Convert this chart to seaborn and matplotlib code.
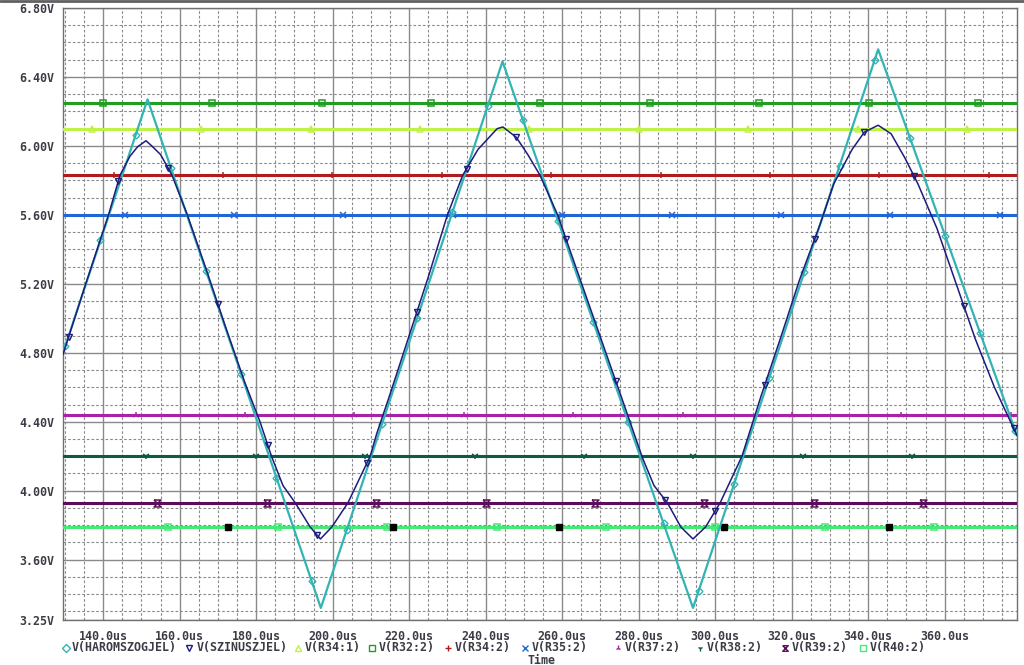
import numpy as np
import pandas as pd
import matplotlib
matplotlib.use("Agg")
import matplotlib.pyplot as plt
import seaborn as sns
from matplotlib.lines import Line2D

# ---------------- data ----------------
tri_t = [129.5, 151.6, 196.9, 244.4, 294.2, 342.6, 378.9]
tri_v = [4.80, 6.27, 3.32, 6.49, 3.32, 6.56, 4.32]

sin_t = [129.5, 135, 141.4, 144.4, 147, 149, 151.2, 152.7, 155, 158, 162, 167, 172, 177,
         181, 184, 187, 190.2, 194.1, 196.8, 199.8, 204, 209.8, 211.5, 215, 220, 225, 230,
         234, 238, 243, 244.5, 248, 251, 254.2, 258.8, 264, 270, 276, 281, 284, 287.5, 291,
         294.2, 297.5, 301.3, 307, 312, 317, 322, 327.5, 331, 335.8, 339, 342.6, 346, 349.6,
         353, 358, 363, 368, 373, 378.9]
sin_v = [4.79, 5.17, 5.60, 5.83, 5.94, 5.995, 6.03, 6.00, 5.95, 5.83, 5.60, 5.28, 4.95, 4.63,
         4.40, 4.20, 4.03, 3.93, 3.79, 3.72, 3.79, 3.93, 4.20, 4.33, 4.56, 4.90, 5.24, 5.60,
         5.83, 5.98, 6.10, 6.11, 6.05, 5.95, 5.83, 5.60, 5.27, 4.89, 4.51, 4.19, 4.03, 3.93, 3.79,
         3.72, 3.79, 3.93, 4.20, 4.55, 4.88, 5.22, 5.55, 5.78, 5.98, 6.08, 6.12, 6.07, 5.93,
         5.78, 5.52, 5.20, 4.88, 4.60, 4.32]

dc_names = ["V(R34:1)", "V(R32:2)", "V(R34:2)", "V(R35:2)",
            "V(R37:2)", "V(R38:2)", "V(R39:2)", "V(R40:2)"]
dc_levels = [6.10, 6.25, 5.83, 5.60, 4.44, 4.20, 3.93, 3.79]

x_ticks = [140, 160, 180, 200, 220, 240, 260, 280, 300, 320, 340, 360]
x_labels = [f"{v:.1f}us" for v in x_ticks]
y_ticks = [3.25, 3.60, 4.00, 4.40, 4.80, 5.20, 5.60, 6.00, 6.40, 6.80]
y_labels = [f"{v:.2f}V" for v in y_ticks]

# ---------------- style ----------------
sns.set_style("white")
plt.rcParams["font.family"] = ["DejaVu Sans Mono", "DejaVu Sans"]

XMIN, XMAX = 129.5, 378.9
YMIN, YMAX = 3.25, 6.80
TXT = "#3c3c46"

hourglass = [(-1, 1), (1, 1), (-1, -1), (1, -1), (-1, 1)]

tri_color = "#33b3b3"
sin_color = "#1c1c7c"
dc_colors = ["#bff246", "#229c22", "#b01c1c", "#2266d6",
             "#a622a6", "#0e5a44", "#5a0e5a", "#46e878"]
dc_markers = ["^", "s", "+", "x", "2", "1", hourglass, "s"]
line_markers = ("+", "x", "1", "2")

fig = plt.figure(figsize=(10.24, 6.65), dpi=100)
W, H = 1024, 665
ax = fig.add_axes([63 / W, 1 - 620 / H, (1017 - 63) / W, (620 - 8) / H])

ax.set_xlim(XMIN, XMAX)
ax.set_ylim(YMIN, YMAX)

# grid
ax.set_xticks(x_ticks)
ax.set_xticks(np.arange(130, 379, 5), minor=True)
ax.set_yticks(y_ticks)
ax.set_yticks(np.round(np.arange(3.3, 6.75, 0.1), 2), minor=True)
ax.grid(which="major", color="#8a8a8a", lw=1.0, ls="-")
ax.grid(which="minor", color="#8a8a8a", lw=0.8, ls=(0, (2.4, 1.8)))
ax.set_axisbelow(True)
ax.set_xticklabels(x_labels)
ax.set_yticklabels(y_labels)
ax.tick_params(axis="both", which="major", length=4, width=1, color="#606060",
               labelsize=8.4, labelcolor=TXT, pad=2)
ax.tick_params(axis="x", which="major", pad=3.5)
ax.tick_params(axis="both", which="minor", length=0)
for lab in ax.get_xticklabels() + ax.get_yticklabels():
    lab.set_fontweight("bold")
for s in ax.spines.values():
    s.set_color("#707070")
    s.set_linewidth(1.0)

# horizontal DC levels
for i, (name, lev, col, mk) in enumerate(zip(dc_names, dc_levels, dc_colors, dc_markers)):
    df = pd.DataFrame({"t": [XMIN, XMAX], "v": [lev, lev]})
    sns.lineplot(data=df, x="t", y="v", color=col, lw=2.2, ax=ax, zorder=3)
    first = 131.3 + 2.86 * (i + 2)
    mt = np.arange(first, XMAX, 28.6)
    ax.plot(mt, [lev] * len(mt), ls="none", marker=mk, ms=5, mew=1.1,
            mfc=col if mk in line_markers else "none", mec=col, zorder=4)

# black squares on V(R40:2)
bt = np.arange(172.7, XMAX, 43.2)
ax.plot(bt, [dc_levels[-1]] * len(bt), ls="none", marker="s", ms=5, color="black", zorder=5)

# triangle and sine
sns.lineplot(x=tri_t, y=tri_v, color=tri_color, lw=1.6, ax=ax, zorder=6, sort=False)
tm = np.arange(130.1, XMAX, 9.2)
ax.plot(tm, np.interp(tm, tri_t, tri_v), ls="none", marker="D", ms=3.5, mfc="none",
        mec=tri_color, mew=1, zorder=7)
sns.lineplot(x=sin_t, y=sin_v, color=sin_color, lw=1.1, ax=ax, zorder=8, sort=False)
sm = np.arange(131.0, XMAX, 13.0)
ax.plot(sm, np.interp(sm, sin_t, sin_v), ls="none", marker="v", ms=4, mfc="none",
        mec=sin_color, mew=1, zorder=9)

ax.set_xlabel("")
ax.set_ylabel("")

# legend row
leg_items = [("V(HAROMSZOGJEL)", tri_color, "D", 66, 72),
             ("V(SZINUSZJEL)", sin_color, "v", 189, 197)]
leg_x = [(298, 305), (372, 379), (448, 455), (525, 532), (618, 625), (700, 707), (785, 792), (863, 870)]
for (mx, tx), name, col, mk in zip(leg_x, dc_names, dc_colors, dc_markers):
    leg_items.append((name, col, mk, mx, tx))
ly = 1 - 648 / H
for name, col, mk, mx, tx in leg_items:
    filled = mk in line_markers
    fig.add_artist(Line2D([mx / W], [ly], marker=mk, ms=4, mew=1,
                          mfc=col if filled else "none", mec=col, ls="none",
                          transform=fig.transFigure))
    fig.text(tx / W, ly, name, fontsize=8.4, fontweight="bold", color=TXT,
             ha="left", va="center")

fig.text(541 / W, 1 - 660 / H, "Time", fontsize=8.4, fontweight="bold", color=TXT,
         ha="center", va="center")

# top frame line
fig.add_artist(Line2D([0, 1], [0.998, 0.998], color="#606060", lw=2, transform=fig.transFigure))

fig.savefig("out.png", dpi=100)
